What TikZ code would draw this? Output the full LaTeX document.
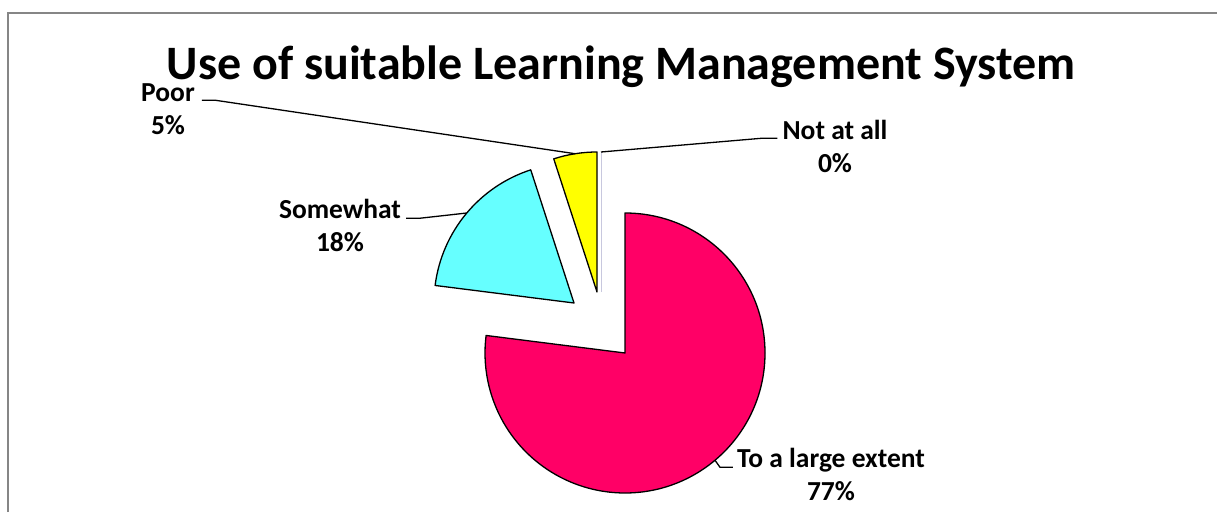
\documentclass[tikz,border=0pt]{standalone}
\usepackage{fontspec}
\setmainfont{Carlito}
\usepackage{tikz}
\usetikzlibrary{positioning,calc}
\definecolor{pinkslice}{RGB}{255,0,102}
\definecolor{cyanslice}{RGB}{102,255,255}
\definecolor{yellowslice}{RGB}{255,255,0}
\definecolor{framegray}{RGB}{134,134,134}
\definecolor{zerogray}{RGB}{200,200,222}
\tikzstyle{slice} = [draw=black, line width=1.3pt, line join=round]
\tikzstyle{leader} = [line width=1.3pt]
\tikzstyle{lbl} = [font=\fontsize{27.5}{33}\selectfont\bfseries, inner sep=0pt, text height=18pt, text depth=0pt]

\begin{document}
\begin{tikzpicture}[x=1pt, y=1pt, node distance=33pt]
		\useasboundingbox (0,0) rectangle (1217,512);
		\draw [framegray, line width=2pt] (8,0) -- (8,498.5) -- (1217,498.5);

		\node (title) [anchor=base, inner sep=0pt, font=\fontsize{48}{58}\selectfont\bfseries] at (621,432) {Use of suitable Learning Management System};

		\coordinate (largec) at (625,159);
		\coordinate (somec) at (574,209);
		\coordinate (poorc) at (597,220);
		\coordinate (zeroc) at (601,220);

		\filldraw [slice, fill=pinkslice] (largec) -- ++(90:140) arc[start angle=90, end angle=-187.2, radius=140] -- cycle;
		\filldraw [slice, fill=cyanslice] (somec) -- ++(172.8:140) arc[start angle=172.8, end angle=108, radius=140] -- cycle;
		\filldraw [slice, fill=yellowslice] (poorc) -- ++(108:140) arc[start angle=108, end angle=90, radius=140] -- cycle;
		\draw [zerogray, line width=1pt] (zeroc) -- ++(0,140) coordinate (zeroend);

		\coordinate (largeend) at ($(largec)+(-50:140)$);
		\coordinate (someend) at ($(somec)+(140:140)$);
		\coordinate (poorend) at ($(poorc)+(99:140)$);

		\node (poor) [lbl] at (168,419) {Poor};
		\node (poorpct) [lbl, below of=poor] {5\%};
		\node (notatall) [lbl] at (835,381) {Not at all};
		\node (notpct) [lbl, below of=notatall] {0\%};
		\node (somewhat) [lbl] at (340,303) {Somewhat};
		\node (somepct) [lbl, below of=somewhat] {18\%};
		\node (large) [lbl] at (831,54) {To a large extent};
		\node (largepct) [lbl, below of=large] {77\%};

		\draw [leader] ([xshift=7pt, yshift=2pt]poor.south east) -- ++(13,0) -- (poorend);
		\draw [leader] ([xshift=-5pt, yshift=2pt]notatall.south west) -- ++(-15,0) -- (zeroend);
		\draw [leader] ([xshift=5pt]somewhat.south east) -- ++(14,0) -- (someend);
		\draw [leader] ([xshift=-4pt]large.south west) -- ++(-13,0) -- (largeend);
	\end{tikzpicture}
\end{document}
